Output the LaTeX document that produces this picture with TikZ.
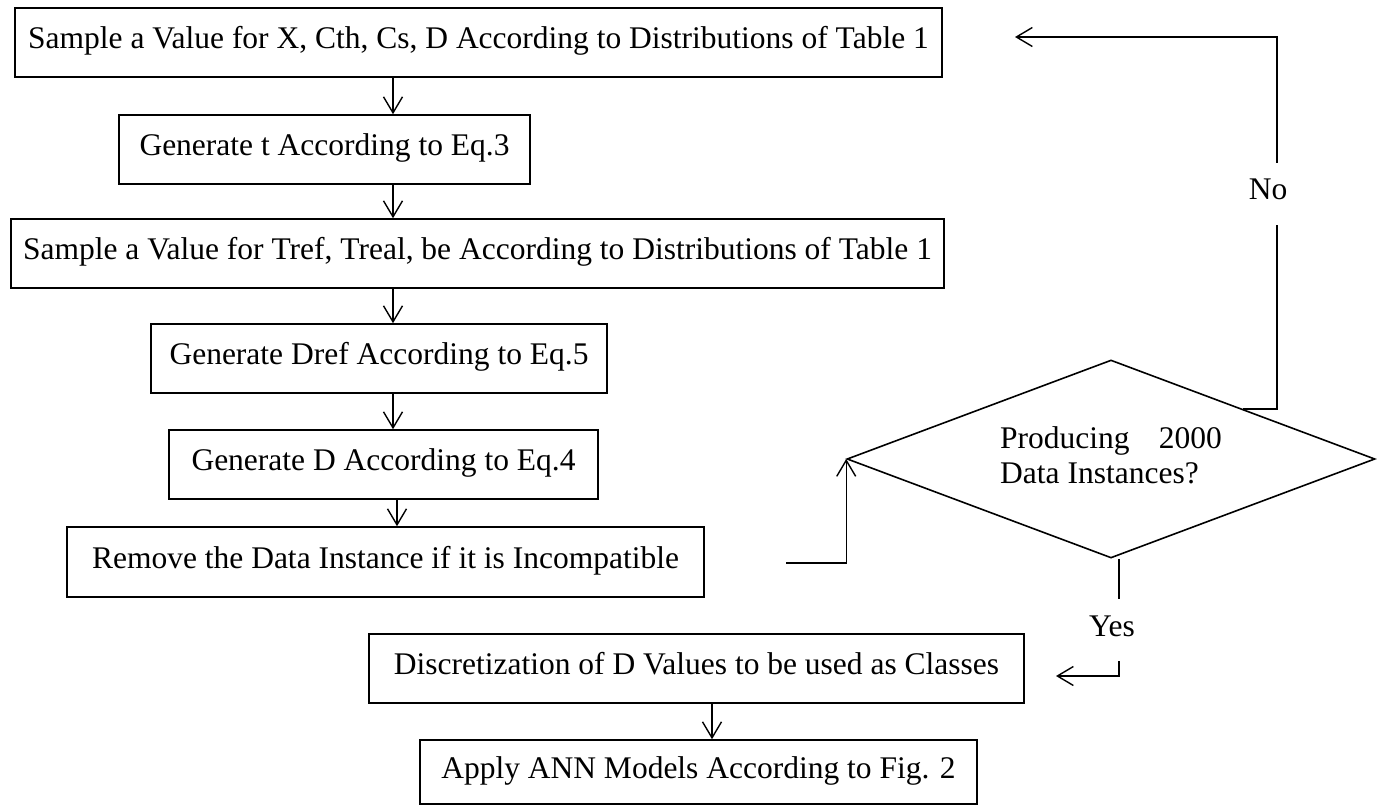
\documentclass[tikz,border=0pt]{standalone}
\usepackage{fontspec}
\setmainfont{Liberation Serif}
\usetikzlibrary{arrows.meta,shapes.geometric,calc}
\begin{document}
\begin{tikzpicture}[x=1pt,y=-1pt,
  txt/.style={font=\fontsize{31.5}{36}\selectfont},
  box/.style={txt, draw, line width=1.6pt, inner sep=0pt, minimum height=69pt, text height=21pt, text depth=9pt},
  conn/.style={line width=1.4pt, -{Straight Barb[length=16pt,width=19pt,line width=1.4pt]}},
  lbl/.style={txt, inner xsep=2pt, inner ysep=16pt, fill=white, text height=21pt, text depth=9pt}]
\useasboundingbox (0,0) rectangle (1384,805);

\coordinate (spine) at (393,0);
\coordinate (spineb) at (397,0);
\coordinate (spinec) at (712,0);

\node[box, minimum width=927pt] (b1) at (478.5,42.5) {Sample a Value for X, Cth, Cs, D According to Distributions of Table 1};
\node[box, minimum width=411pt] (b2) at (324.5,149.5) {Generate t According to Eq.3};
\node[box, minimum width=933pt] (b3) at (477.5,253.5) {Sample a Value for Tref, Treal, be According to Distributions of Table 1};
\node[box, minimum width=456pt] (b4) at (379,358.5) {Generate Dref According to Eq.5};
\node[box, minimum width=429pt] (b5) at (383.5,464.5) {Generate D According to Eq.4};
\node[box, minimum width=637pt, minimum height=70pt] (b6) at (385.5,562) {Remove the Data Instance if it is Incompatible};
\node[box, minimum width=655pt] (b7) at (696.5,668.5) {Discretization of D Values to be used as Classes};
\node[box, minimum width=557pt, minimum height=64pt] (b8) at (698.5,772) {Apply ANN Models According to Fig. 2};

\node[diamond, draw, line width=1.6pt, minimum width=528pt, minimum height=198pt, inner sep=0pt] (dia) at (1111,459) {};
\node[txt, anchor=base west, inner sep=0pt] (p1) at (1000,448) {Producing};
\node[txt, anchor=base east, inner sep=0pt] (p2) at (1222,448) {2000};
\node[txt, anchor=base west, inner sep=0pt] (p3) at (1000,483) {Data Instances?};

\draw[conn] (b1.south -| spine) -- (b2.north -| spine);
\draw[conn] (b2.south -| spine) -- (b3.north -| spine);
\draw[conn] (b3.south -| spine) -- (b4.north -| spine);
\draw[conn] (b4.south -| spine) -- (b5.north -| spine);
\draw[conn] (b5.south -| spineb) -- (b6.north -| spineb);
\draw[conn] (b7.south -| spinec) -- (b8.north -| spinec);

\coordinate (loopstart) at (786,563);
\draw[conn] (loopstart) -| (dia.west);

\coordinate (nocorner) at (1277,37);
\coordinate (noend) at (1015,37);
\draw[conn] ($(dia.north)!0.5!(dia.east)$) -| (nocorner) -- (noend);
\node[lbl] (no) at (1268,194) {No};

\coordinate (yesturn) at (1119,676);
\coordinate (yesend) at (1056,676);
\draw[conn] (dia.south -| yesturn) -- (yesturn) -- (yesend);
\node[lbl] (yes) at (1112,630) {Yes};
\end{tikzpicture}
\end{document}
